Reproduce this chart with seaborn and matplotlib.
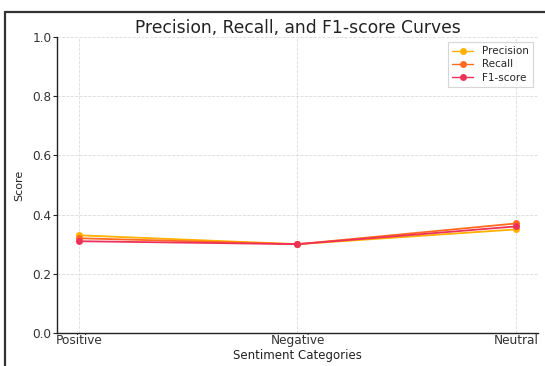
import numpy as np
import pandas as pd
import matplotlib
matplotlib.use('Agg')
import matplotlib.pyplot as plt
from matplotlib.lines import Line2D
import seaborn as sns

categories = ['Positive', 'Negative', 'Neutral']
precision = [0.33, 0.30, 0.35]
recall = [0.32, 0.30, 0.37]
f1 = [0.31, 0.30, 0.36]
metrics = ['Precision', 'Recall', 'F1-score']
colors = ['#FFB000', '#FF6A1F', '#EE3158']

df = pd.DataFrame({
    'Sentiment Categories': categories * 3,
    'Score': precision + recall + f1,
    'Metric': np.repeat(metrics, 3),
})

sns.set_style('ticks')
plt.rcParams['font.family'] = ['DejaVu Sans']

fig = plt.figure(figsize=(5.45, 3.66), dpi=100)
ax = fig.add_axes([0.1046, 0.0902, 0.8824, 0.8088])
sns.lineplot(data=df, x='Sentiment Categories', y='Score', hue='Metric',
             palette=colors, marker='o', markersize=5, markeredgewidth=0,
             linewidth=1.3, sort=False, ax=ax)

ax.set_ylim(0, 1.0)
ax.set_yticks([0.0, 0.2, 0.4, 0.6, 0.8, 1.0])
ax.grid(True, linestyle='--', linewidth=0.6, color='#dcdcdc')
ax.set_title('Precision, Recall, and F1-score Curves', fontsize=12.3,
             pad=3, color='#222222')
ax.set_xlabel('Sentiment Categories', fontsize=8.5, labelpad=1, color='#222222')
ax.set_ylabel('Score', fontsize=8, labelpad=6, color='#222222')
ax.tick_params(labelsize=8.7, length=3, width=0.8, pad=1, labelcolor='#333333')
ax.tick_params(axis='x', length=0)
sns.despine(ax=ax)
for s in ['left', 'bottom']:
    ax.spines[s].set_linewidth(1.0)
    ax.spines[s].set_color('#222222')

leg = ax.legend(loc='upper right', fontsize=7.5, frameon=True, borderpad=0.4,
                labelspacing=0.3, handlelength=2.0, fancybox=False)
leg.get_frame().set_edgecolor('#cccccc')
leg.get_frame().set_linewidth(0.8)
for h in leg.get_lines():
    h.set_linewidth(1.0)

# screenshot frame at top-left
fig.add_artist(Line2D([5 / 545, 1.0], [1 - 12 / 366, 1 - 12 / 366],
                      transform=fig.transFigure, color='#333333', linewidth=1.6))
fig.add_artist(Line2D([5 / 545, 5 / 545], [0, 1 - 12 / 366],
                      transform=fig.transFigure, color='#333333', linewidth=1.6))

fig.savefig('out.png', dpi=100)
